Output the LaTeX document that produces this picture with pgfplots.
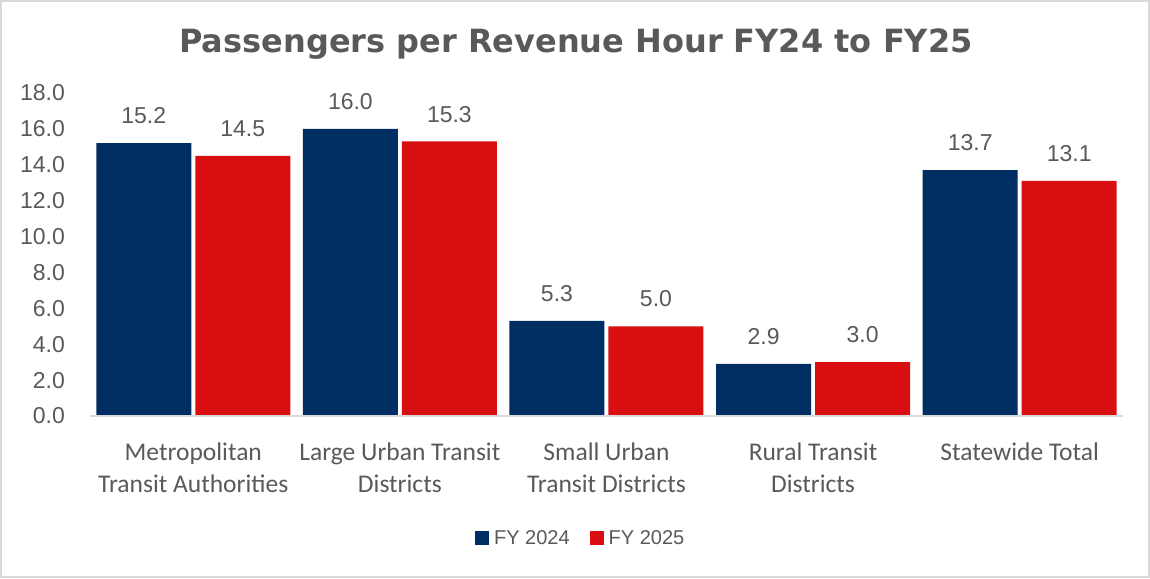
\documentclass[border=0pt]{standalone}
\usepackage{pgfplots}
\pgfplotsset{compat=1.18}
\usepackage{fontspec}
\setmainfont{Liberation Sans}
\newfontfamily\titlefont{DejaVu Sans}
\newfontfamily\catfont{Carlito}
\definecolor{navy}{HTML}{002D62}
\definecolor{cred}{HTML}{D90E11}
\definecolor{txt}{HTML}{595959}
\definecolor{frame}{HTML}{D9D9D9}
\begin{document}
\begin{tikzpicture}[x=1pt,y=1pt]
\useasboundingbox (0,0) rectangle (1150,578);
\draw[frame,line width=1.5pt] (1,1) rectangle (1149,577);
\node[anchor=base,text=txt,font=\titlefont\bfseries\fontsize{32}{32}\selectfont] at (576,525) {Passengers per Revenue Hour FY24 to FY25};
\begin{axis}[
  at={(90pt,162pt)}, anchor=south west,
  scale only axis, width=1033pt, height=323pt,
  ybar, bar width=95pt,
  xmin=-0.5, xmax=4.5, ymin=0, ymax=18,
  ytick={0,2,...,18},
  xtick={0,1,2,3,4},
  xticklabels={Metropolitan\\Transit Authorities, Large Urban Transit\\Districts, Small Urban\\Transit Districts, Rural Transit\\Districts, Statewide Total},
  xticklabel style={align=center, font=\catfont\fontsize{25.5}{32}\selectfont, text=txt, yshift=-23pt},
  yticklabel style={font=\fontsize{23}{23}\selectfont, text=txt, anchor=east, inner sep=0pt, xshift=-25pt},
  /pgf/number format/assume math mode=true,
  yticklabel={\pgfmathprintnumber[fixed,fixed zerofill,precision=1]{\tick}},
  axis x line*=bottom, axis y line*=left,
  x axis line style={draw=none}, y axis line style={draw=none},
  major tick length=0pt,
  tick style={draw=none},
  nodes near coords={\pgfmathprintnumber[fixed,fixed zerofill,precision=1]{\pgfplotspointmeta}},
  every node near coord/.append style={font=\fontsize{23}{23}\selectfont, text=txt, anchor=south, inner sep=0pt, yshift=19pt},
  legend style={at={(0.475,-0.378)}, anchor=center, draw=none, legend columns=2, font=\fontsize{20}{20}\selectfont, text=txt,
    /tikz/every even column/.append style={column sep=18pt}},
  legend image code/.code={\fill[#1,draw=none] (0pt,-7pt) rectangle (14pt,7pt); \path (17pt,0pt);},
  clip=false,
]
\addplot[fill=navy, draw=none, bar shift=-49.5pt] coordinates {(0,15.2) (1,16.0) (2,5.3) (3,2.9) (4,13.7)};
\addplot[fill=cred, draw=none, bar shift=49.5pt] coordinates {(0,14.5) (1,15.3) (2,5.0) (3,3.0) (4,13.1)};
\legend{FY 2024, FY 2025}
\draw[frame, line width=1.5pt] (axis cs:-0.5,0) -- (axis cs:4.5,0);
\end{axis}
\end{tikzpicture}
\end{document}
